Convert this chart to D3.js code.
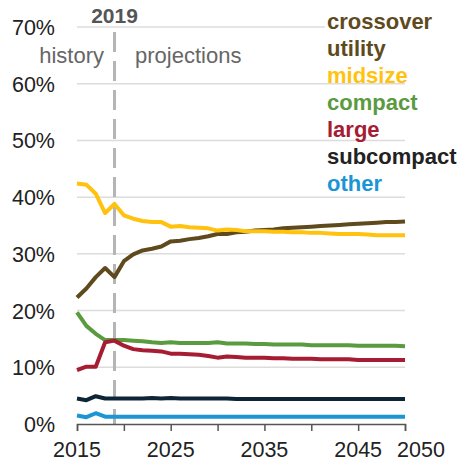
<!DOCTYPE html>
<html><head><meta charset="utf-8">
<script src="https://cdn.jsdelivr.net/npm/d3@7/dist/d3.min.js"></script>
<style>body{margin:0;background:#fff}svg{display:block}text{font-family:"Liberation Sans",Arial,sans-serif}</style>
</head><body>
<script>
const years = d3.range(2015, 2051);
const crossoverUtility = [22.3,23.9,25.9,27.5,25.9,28.7,29.9,30.6,30.9,31.3,32.2,32.3,32.6,32.8,33.1,33.5,33.5,33.8,33.9,34.1,34.2,34.3,34.5,34.6,34.7,34.8,34.9,35.0,35.1,35.2,35.3,35.4,35.5,35.6,35.6,35.7];
const midsize = [42.4,42.2,40.6,37.2,38.8,36.8,36.2,35.8,35.6,35.6,34.8,34.9,34.7,34.6,34.5,34.1,34.3,34.2,34.0,34.0,34.0,33.9,33.9,33.8,33.8,33.7,33.7,33.6,33.5,33.5,33.5,33.4,33.3,33.3,33.3,33.3];
const compact = [19.7,17.3,15.9,14.8,14.8,14.8,14.7,14.6,14.4,14.3,14.4,14.3,14.3,14.3,14.3,14.4,14.2,14.2,14.2,14.1,14.1,14.0,14.0,14.0,14.0,13.9,13.9,13.9,13.9,13.9,13.8,13.8,13.8,13.8,13.8,13.7];
const large = [9.5,10.1,10.1,14.4,14.7,13.8,13.2,13.0,12.9,12.8,12.4,12.4,12.3,12.2,12.0,11.7,11.9,11.8,11.7,11.7,11.7,11.6,11.6,11.5,11.5,11.5,11.4,11.4,11.4,11.4,11.3,11.3,11.3,11.3,11.3,11.3];
const subcompact = [4.5,4.2,4.9,4.5,4.5,4.5,4.5,4.5,4.6,4.5,4.6,4.5,4.5,4.5,4.5,4.5,4.5,4.4,4.4,4.4,4.4,4.4,4.4,4.4,4.4,4.4,4.4,4.4,4.4,4.4,4.4,4.4,4.4,4.4,4.4,4.4];
const other = [1.5,1.2,1.9,1.3,1.3,1.3,1.3,1.3,1.3,1.3,1.3,1.3,1.3,1.3,1.3,1.3,1.3,1.3,1.3,1.3,1.3,1.3,1.3,1.3,1.3,1.3,1.3,1.3,1.3,1.3,1.3,1.3,1.3,1.3,1.3,1.3];
const yTicks = [0,10,20,30,40,50,60,70];
const xTickYears = [2015,2020,2025,2030,2035,2040,2045,2050];
const xLabelYears = [2015,2025,2035,2045,2050];
const legendLabels = ["crossover","utility","midsize","compact","large","subcompact","other"];
const splitYear = 2019;

const W = 462, H = 461;
const x = d3.scaleLinear().domain([2015, 2050]).range([77, 405]);
const y = d3.scaleLinear().domain([0, 70]).range([424, 27]);

const svg = d3.select("body").append("svg").attr("width", W).attr("height", H);

// gridlines
svg.append("g").selectAll("line").data(yTicks.filter(d => d > 0)).join("line")
  .attr("x1", x(2015)).attr("x2", x(2050))
  .attr("y1", d => y(d)).attr("y2", d => y(d))
  .attr("stroke", "#dcdcdc").attr("stroke-width", 1.5);

// y labels
svg.append("g").selectAll("text").data(yTicks).join("text")
  .attr("x", 55).attr("y", d => y(d) + 8)
  .attr("text-anchor", "end").attr("font-size", 21.5).attr("fill", "#222")
  .text(d => d + "%");

// dashed split line
svg.append("line").attr("x1", x(splitYear)).attr("x2", x(splitYear))
  .attr("y1", 32).attr("y2", y(0))
  .attr("stroke", "#b5b5b5").attr("stroke-width", 3).attr("stroke-dasharray", "20,9");

svg.append("text").attr("x", x(splitYear)).attr("y", 23).attr("text-anchor", "middle")
  .attr("font-size", 21).attr("font-weight", "bold").attr("fill", "#555").text(String(splitYear));
svg.append("text").attr("x", 104).attr("y", 63).attr("text-anchor", "end")
  .attr("font-size", 22).attr("fill", "#666").text("history");
svg.append("text").attr("x", 135).attr("y", 63).attr("text-anchor", "start")
  .attr("font-size", 22).attr("fill", "#666").text("projections");

// x axis
const xAxis = d3.axisBottom(x).tickValues(xTickYears).tickSize(7).tickFormat("");
const gx = svg.append("g").attr("transform", `translate(0,${y(0)})`).call(xAxis);
gx.select(".domain").attr("stroke", "#555").attr("stroke-width", 1.5);
gx.selectAll(".tick line").attr("stroke", "#555").attr("stroke-width", 1.5);
svg.append("g").selectAll("text").data(xLabelYears).join("text")
  .attr("x", d => x(d) + (d === 2050 ? 16 : 0)).attr("y", 457)
  .attr("text-anchor", "middle").attr("font-size", 21.5).attr("fill", "#222")
  .text(d => d);

// lines
const series = [
  {vals: other, color: "#1b95d4"},
  {vals: subcompact, color: "#0e2537"},
  {vals: compact, color: "#5a9b3f"},
  {vals: large, color: "#a51c33"},
  {vals: crossoverUtility, color: "#5e4a1c"},
  {vals: midsize, color: "#ffc20e"}
];
const line = d3.line().x((d, i) => x(years[i])).y(d => y(d));
svg.append("g").selectAll("path").data(series).join("path")
  .attr("d", d => line(d.vals)).attr("fill", "none")
  .attr("stroke", d => d.color).attr("stroke-width", 4)
  .attr("stroke-linejoin", "round").attr("stroke-linecap", "butt");

// legend
const legendColors = ["#5e4a1c","#5e4a1c","#ffc20e","#5a9b3f","#a51c33","#222222","#1b95d4"];
svg.append("rect").attr("x", 325).attr("y", 10).attr("width", 137).attr("height", 22).attr("fill", "#fff");
svg.append("g").selectAll("text").data(legendLabels).join("text")
  .attr("x", 327).attr("y", (d, i) => 28.5 + i * 27)
  .attr("font-size", 22).attr("font-weight", "bold")
  .attr("fill", (d, i) => legendColors[i]).text(d => d);
</script>
</body></html>
